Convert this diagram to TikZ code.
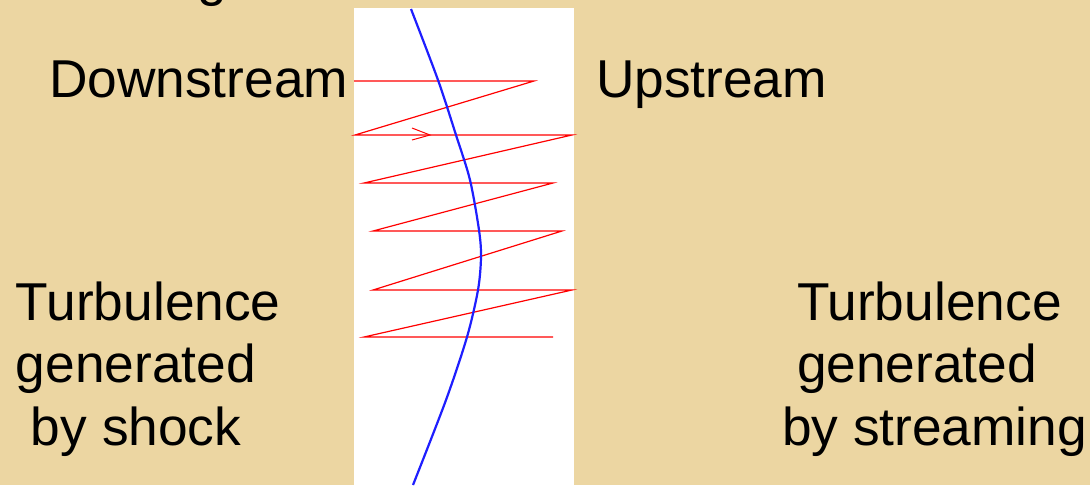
\documentclass[tikz,border=0pt]{standalone}
\usepackage{fontspec}
\setmainfont{Liberation Sans}
\definecolor{parch}{RGB}{236,214,162}
\definecolor{zred}{RGB}{255,0,0}
\definecolor{sblue}{RGB}{30,30,255}
\tikzset{
  lbl/.style={inner sep=0pt, outer sep=0pt, anchor=base west, align=left,
    font=\fontsize{53.3}{62.5}\selectfont, text=black},
  zig/.style={draw=zred, line width=1.2pt},
  shockline/.style={draw=sblue, line width=2.2pt},
}
\begin{document}
\begin{tikzpicture}[x=1pt,y=-1pt]
\useasboundingbox (0,0) rectangle (1090,485);
\fill[parch] (0,0) rectangle (1090,485);
\begin{scope}
\clip (0,0) rectangle (1090,485);
\node[lbl] (title) at (197,-5) {g};
\end{scope}
\fill[white] (354,8) rectangle (574,485);
% zigzag path of the particle
\coordinate (z0) at (354,81);
\coordinate (z1) at (534,81);
\coordinate (z2) at (355,135);
\coordinate (z3) at (572,135);
\coordinate (z4) at (364,183);
\coordinate (z5) at (553,183);
\coordinate (z6) at (373,231);
\coordinate (z7) at (562,231);
\coordinate (z8) at (373,290);
\coordinate (z9) at (572,290);
\coordinate (z10) at (364,337);
\coordinate (z11) at (553,337);
\draw[zig] (z0) -- (z1) -- (z2) -- (z3) -- (z4) -- (z5) -- (z6) -- (z7) -- (z8) -- (z9) -- (z10) -- (z11);
\draw[zig, line width=1pt] (412,128) -- (430,135) -- (412,140);
% shock front
\draw[shockline] plot[smooth, tension=0.5] coordinates {(411,9) (438,80) (456,135) (470,180) (479,230) (481,257) (478,290) (467,337) (446,400) (413,485)};
% labels
\node[lbl] (down) at (49,97) {Downstream};
\node[lbl] (up) at (596,97) {Upstream};
\node[lbl] (tshock) at (16,445) {Turbulence\\generated\\\hspace*{15pt}by shock};
\node[lbl] (tstream) at (782,445) {\hspace*{15pt}Turbulence\\\hspace*{15pt}generated\\by streaming};
\end{tikzpicture}
\end{document}
